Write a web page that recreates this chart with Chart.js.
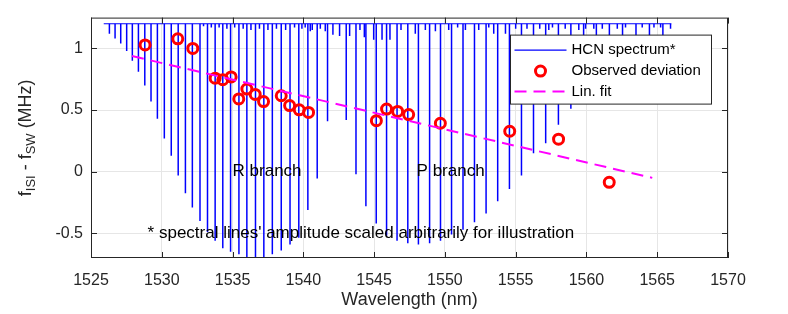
<!DOCTYPE html>
<html lang="en">
<head>
<meta charset="UTF-8" />
<title>HCN spectrum and observed deviation</title>
<script src="https://cdn.jsdelivr.net/npm/chart.js"></script>
<style>
  body { margin: 0; background: white; }
  #chart { display: block; }
</style>
</head>
<body>
<canvas id="chart" width="788" height="314"></canvas>
<script>
const xTicks = [1525, 1530, 1535, 1540, 1545, 1550, 1555, 1560, 1565, 1570];
const yTicks = [-0.5, 0, 0.5, 1];

// strong HCN lines (R and P branch): centre wavelength (nm) and bottom of the dip
const lineWl = [
  1526.30, 1526.70, 1527.10, 1527.52, 1527.92, 1528.35, 1528.80, 1529.24, 1529.69, 1530.18,
  1530.67, 1531.16, 1531.67, 1532.16, 1532.70, 1533.23, 1533.77, 1534.31, 1534.86, 1535.45,
  1536.01, 1536.62, 1537.21, 1537.81, 1538.44, 1539.06, 1539.68, 1540.32, 1540.98, 1541.71,
  1543.03, 1543.72, 1544.42, 1545.15, 1545.88, 1546.62, 1547.38, 1548.13, 1548.92, 1549.69,
  1550.47, 1551.28, 1552.09, 1552.91, 1553.73, 1554.56, 1555.41, 1556.26, 1557.12, 1558.02,
  1558.90, 1559.80, 1560.70, 1561.62, 1562.55, 1563.50, 1564.45, 1565.40,
];
const lineDepth = [
  1.12, 1.08, 1.04, 0.98, 0.90, 0.81, 0.70, 0.57, 0.43, 0.27,
  0.13, -0.03, -0.175, -0.29, -0.40, -0.49, -0.56, -0.62, -0.65, -0.67,
  -0.70, -0.70, -0.70, -0.67, -0.64, -0.59, -0.535, -0.31, -0.055, 0.41,
  0.42, -0.02, -0.28, -0.42, -0.52, -0.56, -0.58, -0.59, -0.58, -0.56,
  -0.51, -0.47, -0.41, -0.34, -0.24, -0.14, -0.03, 0.15, 0.23, 0.38,
  0.51, 0.63, 0.74, 0.84, 0.92, 0.99, 1.05, 1.10,
];
// weak hot-band lines just under the baseline
const weakWl = [
  1532.95, 1533.50, 1534.05, 1534.60, 1535.15, 1535.75, 1536.30, 1536.90, 1537.50, 1538.10,
  1538.75, 1539.38, 1539.90, 1540.13, 1540.49, 1540.63, 1541.20, 1541.55, 1542.09, 1542.56,
  1543.27, 1544.00, 1544.31, 1544.97, 1545.56, 1546.12, 1546.90, 1547.91, 1548.62, 1549.33,
  1550.27, 1550.90, 1551.45, 1552.39, 1553.10, 1553.45, 1554.28, 1555.00, 1555.80, 1556.70,
  1557.34, 1557.60, 1558.50, 1559.46, 1559.94, 1560.52, 1561.12, 1562.18, 1562.76, 1563.94,
  1564.77, 1565.24, 1565.94,
];
const weakDepth = [
  1.18, 1.17, 1.17, 1.16, 1.17, 1.16, 1.15, 1.16, 1.15, 1.16,
  1.15, 1.17, 1.16, 1.17, 1.14, 1.15, 1.16, 1.14, 1.11, 1.10,
  1.10, 1.15, 1.09, 1.07, 1.07, 1.07, 1.15, 1.12, 1.15, 1.14,
  1.15, 1.17, 1.15, 1.15, 1.17, 1.12, 1.12, 1.16, 1.16, 1.16,
  1.15, 1.17, 1.16, 1.15, 1.16, 1.16, 1.16, 1.16, 1.17, 1.17,
  1.17, 1.17, 1.16,
];
const specBase = 1.2;
const specSpan = [1525.9, 1566.0];

const obsWl = [
  1528.82, 1531.13, 1532.19, 1533.77, 1534.31, 1534.90, 1535.44, 1536.01, 1536.60, 1537.19,
  1538.44, 1539.03, 1539.71, 1540.37, 1545.16, 1545.88, 1546.66, 1547.44, 1549.68, 1554.58,
  1558.03, 1561.61,
];
const obsDev = [
  1.028, 1.078, 1.0, 0.759, 0.746, 0.769, 0.59, 0.67, 0.627, 0.569,
  0.616, 0.536, 0.502, 0.481, 0.414, 0.508, 0.489, 0.463, 0.393, 0.328,
  0.264, -0.086,
];
const fitWl = [1527.9, 1564.65];
const fitDev = [0.938, -0.05];

const FONT = "'Liberation Sans', Arial, Helvetica, sans-serif";
const AXIS_COLOR = "#262626";

const spectrum = lineWl.map((w, i) => ({ x: w, y: [lineDepth[i], specBase] }))
  .concat(weakWl.map((w, i) => ({ x: w, y: [weakDepth[i], specBase] })));

const notes = [
  { text: "R branch", x: 1535, y: 0 },
  { text: "P branch", x: 1548, y: 0 },
  { text: "* spectral lines' amplitude scaled arbitrarily for illustration", x: 1529, y: -0.5 },
];

function drawYLabel(ctx, cx, cy) {
  const parts = [["f", 0], ["ISI", 1], [" - ", 0], ["f", 0], ["SW", 1], [" (MHz)", 0]];
  const fonts = [`18px ${FONT}`, `13px ${FONT}`];
  let total = 0;
  parts.forEach(([t, s]) => { ctx.font = fonts[s]; total += ctx.measureText(t).width; });
  ctx.save();
  ctx.translate(cx, cy);
  ctx.rotate(-Math.PI / 2);
  ctx.fillStyle = AXIS_COLOR;
  ctx.textBaseline = "alphabetic";
  ctx.textAlign = "left";
  let u = -total / 2;
  parts.forEach(([t, s]) => {
    ctx.font = fonts[s];
    ctx.fillText(t, u, s ? 4 : 0);
    u += ctx.measureText(t).width;
  });
  ctx.restore();
}

const decor = {
  id: "decor",
  afterDatasetsDraw(chart) {
    const { ctx, chartArea: a, scales: { x, y } } = chart;
    const ds = chart.data.datasets;
    ctx.save();

    // text notes
    ctx.fillStyle = "#000";
    ctx.font = `17px ${FONT}`;
    ctx.textAlign = "left";
    ctx.textBaseline = "middle";
    notes.forEach(n => ctx.fillText(n.text, x.getPixelForValue(n.x), y.getPixelForValue(n.y)));

    // legend box, top right inside the axes
    const lx = a.right - 217.5, ly = a.top + 17.5, lw = 201, lh = 69;
    ctx.fillStyle = "#fff";
    ctx.fillRect(lx, ly, lw, lh);
    ctx.strokeStyle = AXIS_COLOR;
    ctx.lineWidth = 1;
    ctx.strokeRect(lx, ly, lw, lh);
    const rows = [ly + 15, ly + 36, ly + 56.5];
    ctx.font = `15px ${FONT}`;
    ctx.fillStyle = "#000";
    ctx.textBaseline = "middle";
    [ds[0], ds[2], ds[3]].forEach((d, i) => ctx.fillText(d.label, lx + 61, rows[i]));
    ctx.lineWidth = 1.2;
    ctx.strokeStyle = ds[0].backgroundColor;
    ctx.beginPath(); ctx.moveTo(lx + 4, rows[0]); ctx.lineTo(lx + 56, rows[0]); ctx.stroke();
    ctx.lineWidth = 3;
    ctx.strokeStyle = ds[2].pointBorderColor;
    ctx.beginPath(); ctx.arc(lx + 30, rows[1], 5, 0, Math.PI * 2); ctx.stroke();
    ctx.lineWidth = 2;
    ctx.strokeStyle = ds[3].borderColor;
    ctx.setLineDash(ds[3].borderDash);
    ctx.beginPath(); ctx.moveTo(lx + 4, rows[2]); ctx.lineTo(lx + 56, rows[2]); ctx.stroke();
    ctx.setLineDash([]);

    // axes box and inward tick marks
    ctx.strokeStyle = AXIS_COLOR;
    ctx.lineWidth = 1;
    ctx.strokeRect(a.left + 0.5, a.top + 0.5, a.width - 1, a.height - 1);
    ctx.beginPath();
    xTicks.forEach(v => {
      const px = Math.round(x.getPixelForValue(v)) + 0.5;
      ctx.moveTo(px, a.bottom); ctx.lineTo(px, a.bottom - 6);
      ctx.moveTo(px, a.top); ctx.lineTo(px, a.top + 6);
    });
    yTicks.forEach(v => {
      const py = Math.round(y.getPixelForValue(v)) + 0.5;
      ctx.moveTo(a.left, py); ctx.lineTo(a.left + 6, py);
      ctx.moveTo(a.right, py); ctx.lineTo(a.right - 6, py);
    });
    ctx.stroke();

    drawYLabel(ctx, 31, (a.top + a.bottom) / 2);
    ctx.restore();
  },
};

new Chart("chart", {
  type: "bar",
  data: {
    datasets: [
      {
        type: "bar",
        label: "HCN spectrum*",
        data: spectrum,
        backgroundColor: "#0000ff",
        borderWidth: 0,
        barThickness: 1.5,
        inflateAmount: 0,
        grouped: false,
        order: 4,
      },
      {
        type: "line",
        label: "baseline",
        data: specSpan.map(w => ({ x: w, y: specBase })),
        borderColor: "#0000ff",
        borderWidth: 1.2,
        pointRadius: 0,
        order: 4,
      },
      {
        type: "scatter",
        label: "Observed deviation",
        data: obsWl.map((w, i) => ({ x: w, y: obsDev[i] })),
        pointRadius: 5,
        pointBorderWidth: 3,
        pointBorderColor: "#ff0000",
        pointBackgroundColor: "rgba(0,0,0,0)",
        order: 2,
      },
      {
        type: "line",
        label: "Lin. fit",
        data: fitWl.map((w, i) => ({ x: w, y: fitDev[i] })),
        borderColor: "#ff00ff",
        borderWidth: 2,
        borderDash: [12, 7],
        pointRadius: 0,
        order: 1,
      },
    ],
  },
  options: {
    responsive: false,
    animation: false,
    devicePixelRatio: 1,
    layout: { padding: { top: 7, right: 60, left: 0, bottom: 0 } },
    plugins: { legend: { display: false }, tooltip: { enabled: false } },
    scales: {
      x: {
        type: "linear",
        min: 1525,
        max: 1570,
        offset: false,
        afterBuildTicks: s => { s.ticks = xTicks.map(v => ({ value: v })); },
        afterFit: s => { s.height = 56; },
        grid: { color: "#e6e6e6", drawTicks: false, offset: false },
        border: { display: false },
        ticks: {
          color: AXIS_COLOR,
          padding: 13,
          maxRotation: 0,
          font: { family: FONT, size: 16 },
          callback: v => String(v),
        },
        title: {
          display: true,
          text: "Wavelength (nm)",
          color: AXIS_COLOR,
          font: { family: FONT, size: 18 },
          padding: { top: 0, bottom: 3 },
        },
      },
      y: {
        min: -0.7,
        max: 1.25,
        afterBuildTicks: s => { s.ticks = yTicks.map(v => ({ value: v })); },
        afterFit: s => { s.width = 91; },
        grid: { color: "#e6e6e6", drawTicks: false },
        border: { display: false },
        ticks: {
          color: AXIS_COLOR,
          padding: 8,
          font: { family: FONT, size: 16 },
          callback: v => String(v),
        },
      },
    },
  },
  plugins: [decor],
});
</script>
</body>
</html>
